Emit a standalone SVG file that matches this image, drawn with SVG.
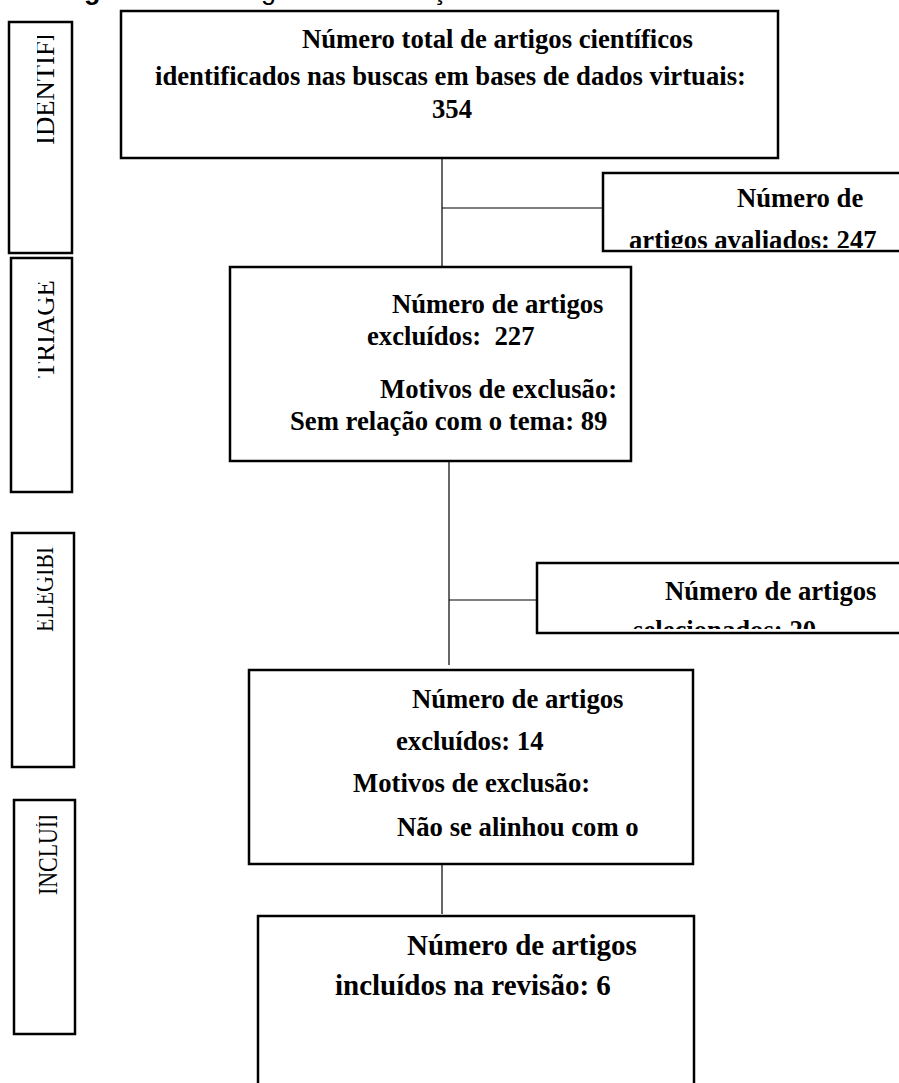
<svg xmlns="http://www.w3.org/2000/svg" width="899" height="1083" viewBox="0 0 899 1083">
<style>
.box{fill:#fff;stroke:#000;stroke-width:2.5}
.conn{stroke:#000;stroke-width:1.2;fill:none}
.t{font-family:"Liberation Serif","Times New Roman",serif;font-weight:bold;font-size:26.7px;fill:#000}
.side{font-family:"Liberation Serif","Times New Roman",serif;font-size:26.7px;fill:#000}
.title{font-family:"Liberation Sans",Arial,sans-serif;font-size:27px;fill:#000}
</style>
<defs>
<clipPath id="cIdent"><rect x="37" y="36" width="33" height="215"/></clipPath>
<clipPath id="cTri"><rect x="38" y="280" width="32" height="209"/></clipPath>
<clipPath id="cEleg"><rect x="37" y="546" width="35" height="219"/></clipPath>
<clipPath id="cIncl"><rect x="36" y="816" width="37" height="216"/></clipPath>
<clipPath id="cAval"><rect x="604" y="174" width="300" height="74"/></clipPath>
<clipPath id="cSel"><rect x="538" y="564" width="365" height="65"/></clipPath>
<clipPath id="cTri2"><rect x="231" y="268" width="399" height="188"/></clipPath>
<clipPath id="cExc"><rect x="250" y="671" width="442" height="191"/></clipPath>
</defs>
<rect width="899" height="1083" fill="#fff"/>

<text class="title" x="60" y="-1"><tspan font-weight="bold">Figura 1 –</tspan> Fluxograma de seleção</text>

<g id="connectors">
<line class="conn" x1="442" y1="158" x2="442" y2="268"/>
<line class="conn" x1="442" y1="208" x2="604" y2="208"/>
<line class="conn" x1="449" y1="461" x2="449" y2="665"/>
<line class="conn" x1="449" y1="600" x2="537" y2="600"/>
<line class="conn" x1="442" y1="864" x2="442" y2="914"/>
</g>

<g id="side-identificacao">
<rect class="box" x="9" y="22" width="63" height="231"/>
<g clip-path="url(#cIdent)"><text class="side" transform="translate(54,145) rotate(-90)">IDENTIFICAÇÃO</text></g>
</g>
<g id="side-triagem">
<rect class="box" x="11" y="258" width="61" height="234"/>
<g clip-path="url(#cTri)"><text class="side" transform="translate(54,378) rotate(-90)">TRIAGEM</text></g>
</g>
<g id="side-elegibilidade">
<rect class="box" x="12" y="533" width="62" height="234"/>
<g clip-path="url(#cEleg)"><text class="side" transform="translate(53,632) rotate(-90) scale(0.82,1)">ELEGIBILIDADE</text></g>
</g>
<g id="side-inclusao">
<rect class="box" x="14" y="800" width="61" height="234"/>
<g clip-path="url(#cIncl)"><text class="side" transform="translate(57,895) rotate(-90) scale(0.82,1)">INCLUÍDOS</text></g>
</g>

<g id="node-total">
<rect class="box" x="121" y="11" width="657" height="147"/>
<text class="t" x="302" y="48">Número total de artigos científicos</text>
<text class="t" x="155" y="85">identificados nas buscas em bases de dados virtuais:</text>
<text class="t" x="432" y="118">354</text>
</g>

<g id="node-avaliados">
<rect class="box" x="603" y="173" width="320" height="78"/>
<g clip-path="url(#cAval)">
<text class="t" x="737" y="207">Número de</text>
<text class="t" x="629" y="249">artigos avaliados: 247</text>
</g>
</g>

<g id="node-excluidos-triagem">
<rect class="box" x="230" y="267" width="401" height="194"/>
<g clip-path="url(#cTri2)">
<text class="t" x="392" y="313">Número de artigos</text>
<text class="t" x="367" y="345" xml:space="preserve">excluídos:  227</text>
<text class="t" x="380" y="398">Motivos de exclusão:</text>
<text class="t" x="290" y="430">Sem relação com o tema: 89</text>
</g>
</g>

<g id="node-selecionados">
<rect class="box" x="537" y="563" width="380" height="70"/>
<g clip-path="url(#cSel)">
<text class="t" x="665" y="600">Número de artigos</text>
<text class="t" x="633" y="639">selecionados: 20</text>
</g>
</g>

<g id="node-excluidos-elegibilidade">
<rect class="box" x="249" y="670" width="444" height="194"/>
<g clip-path="url(#cExc)">
<text class="t" x="412" y="708">Número de artigos</text>
<text class="t" x="396" y="750">excluídos: 14</text>
<text class="t" x="353" y="792">Motivos de exclusão:</text>
<text class="t" x="397" y="836">Não se alinhou com o</text>
</g>
</g>

<g id="node-incluidos">
<rect class="box" x="258" y="916" width="436" height="200"/>
<text class="t" style="font-size:29px" x="407" y="955">Número de artigos</text>
<text class="t" style="font-size:29px" x="335" y="995">incluídos na revisão: 6</text>
</g>
</svg>
